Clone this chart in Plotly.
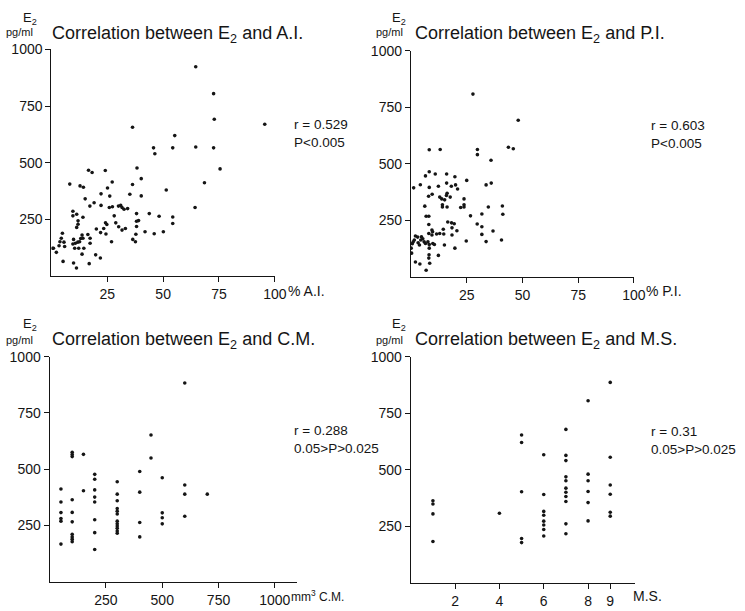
import plotly.graph_objects as go

# ---------------- data ----------------
ai_x = [64.6, 72.6, 72.9, 95.5, 36.3, 55.2, 45.7, 46.3, 54.3, 64.6, 72.6, 75.5, 68.5, 64.3, 54.3, 54.3,
        16.6, 18.2, 24.1, 38.3, 8.2, 12.8, 14.3, 27.2, 25.1, 40.2, 36.3, 15.1, 22.2, 26.1, 35.1, 40.2, 51.4,
        17.2, 19.1, 22.2, 25.9, 27.3, 30.0, 31.0, 31.6, 32.5, 34.1,
        9.6, 9.6, 11.3, 14.1, 28.1, 28.8, 30.1, 31.6, 33.1, 38.1, 38.1, 38.1, 39.0, 43.8, 48.2,
        50.1, 46.0, 41.9, 37.8, 36.4, 37.6, 24.8, 24.2, 23.4, 20.1, 22.0, 24.4, 26.9,
        11.9, 11.3, 11.9, 4.9, 4.4, 3.8, 5.6, 5.9, 3.4, 0.9, 2.2, 9.9, 9.6, 10.7, 11.8, 12.6, 13.1, 13.7,
        14.1, 16.3, 17.3, 17.3, 14.5, 12.2, 10.4, 13.7, 19.8, 21.9, 5.2, 9.9, 11.2, 16.9, 0.5]
ai_y = [924, 805, 692, 670, 657, 620, 566, 540, 566, 570, 566, 473, 412, 303, 261, 232,
        467, 457, 466, 477, 406, 398, 392, 415, 389, 430, 404, 341, 363, 353, 361, 354, 380,
        309, 324, 312, 303, 306, 309, 312, 303, 295, 298,
        286, 266, 273, 260, 266, 235, 218, 203, 210, 276, 242, 219, 245, 276, 264,
        196, 187, 196, 185, 162, 152, 228, 235, 210, 208, 192, 186, 152,
        244, 215, 229, 189, 167, 152, 150, 131, 134, 123, 105, 162, 142, 145, 150, 152, 166, 181,
        167, 184, 167, 145, 123, 123, 123, 97, 94, 80, 65, 58, 36, 55, 123]

pi_x = [27.8, 48.1, 8.2, 13.1, 29.8, 29.8, 35.9, 43.7, 45.9,
        1.2, 4.2, 6.5, 8.2, 10.9, 16.0, 19.7, 16.0, 20.0, 18.1, 20.9, 25.0, 33.7, 36.0, 8.2, 12.3,
        9.5, 7.9, 12.9, 13.8, 15.1, 15.9, 16.2, 17.6, 14.1, 14.1, 16.2, 23.8, 23.8, 23.8, 22.3, 6.2,
        6.8, 8.0, 26.7, 31.8, 34.7, 41.0, 41.2, 8.0, 16.5, 18.2, 19.4, 18.4, 18.4, 20.6, 14.5, 12.9,
        14.7, 9.4, 9.4, 9.7, 8.0, 11.5, 29.7, 31.8, 31.8, 36.8, 33.7, 40.6, 24.8,
        2.0, 3.0, 4.7, 5.3, 4.4, 1.5, 1.0, 0.6, 3.2, 3.8, 5.9, 6.5, 7.6, 8.2, 9.8, 10.5, 15.0, 8.2,
        0.1, 0.3, 2.0, 4.0, 8.0, 8.4, 6.8, 12.3, 19.7, 8.1]
pi_y = [808, 692, 562, 563, 563, 540, 515, 573, 566,
        393, 407, 446, 464, 454, 454, 442, 414, 406, 400, 388, 426, 406, 414, 395, 400,
        365, 356, 352, 344, 340, 359, 369, 352, 318, 308, 308, 344, 318, 308, 306, 312,
        267, 267, 269, 277, 308, 313, 276, 231, 242, 238, 234, 216, 184, 203, 210, 191,
        189, 206, 184, 199, 191, 189, 233, 221, 187, 202, 155, 162, 158,
        180, 175, 176, 168, 162, 162, 154, 146, 150, 140, 154, 147, 154, 142, 147, 142, 140, 126,
        126, 104, 65, 56, 82, 59, 28, 94, 126, 97]

cm_x = [50, 50, 50, 50, 50, 50,
        100, 100, 100, 100, 100, 100, 100, 100, 100, 100,
        150, 150,
        200, 200, 200, 200, 200, 200, 200, 200,
        300, 300, 300, 300, 300, 300, 300, 300, 300, 300, 300, 300,
        400, 400, 400, 400,
        450, 450,
        500, 500, 500, 500,
        600, 600, 600, 600,
        700]
cm_y = [412, 354, 307, 281, 269, 167,
        575, 565, 556, 364, 308, 266, 211, 199, 189, 178,
        566, 404,
        477, 455, 408, 376, 354, 275, 218, 143,
        444, 389, 360, 325, 313, 301, 269, 257, 247, 237, 225, 215,
        490, 398, 263, 199,
        652, 550,
        462, 306, 284, 257,
        883, 430, 389, 291,
        389]

ms_x = [1, 1, 1, 1,
        4,
        5, 5, 5, 5, 5,
        6, 6, 6, 6, 6, 6, 6, 6,
        7, 7, 7, 7, 7, 7, 7, 7, 7, 7, 7,
        8, 8, 8, 8, 8, 8,
        9, 9, 9, 9, 9, 9]
ms_y = [362, 348, 304, 182,
        307,
        653, 620, 402, 195, 177,
        566, 390, 315, 298, 272, 255, 235, 206,
        678, 563, 540, 468, 451, 418, 400, 381, 359, 260, 216,
        805, 480, 451, 403, 354, 273,
        886, 555, 432, 391, 311, 294]

y_ticks = [250, 500, 750, 1000]
ai_ticks = [25, 50, 75, 100]
pi_ticks = [25, 50, 75, 100]
cm_ticks = [250, 500, 750, 1000]
ms_ticks = [2, 4, 6, 8, 9]

# ---------------- figure ----------------
W, H = 745, 611
FONT = "Liberation Sans, Arial, sans-serif"
INK = "#151515"


def px_x(p):
    return p / W


def px_y(p):
    return 1 - p / H


fig = go.Figure()
panels = [
    (ai_x, ai_y, "x", "y"),
    (pi_x, pi_y, "x2", "y2"),
    (cm_x, cm_y, "x3", "y3"),
    (ms_x, ms_y, "x4", "y4"),
]
for xs, ys, xa, ya in panels:
    fig.add_trace(go.Scatter(x=xs, y=ys, mode="markers", xaxis=xa, yaxis=ya,
                             marker=dict(color=INK, size=3.6), showlegend=False,
                             hoverinfo="skip"))

axis_common = dict(showline=True, linecolor=INK, linewidth=1.3, showgrid=False,
                   zeroline=False, ticks="outside", ticklen=5, tickwidth=1.2,
                   tickcolor=INK, tickfont=dict(family=FONT, size=14, color=INK))

layout = dict(width=W, height=H, margin=dict(l=0, r=0, t=0, b=0),
              paper_bgcolor="white", plot_bgcolor="white", showlegend=False)

# panel geometry (pixel positions)
geo = {
    "1": dict(x0=52.3, x1=279.3, y0=271.7, y1=42.0, xr=[0, 100], ticks=ai_ticks),
    "2": dict(x0=417.7, x1=644.3, y0=272.2, y1=43.3, xr=[0, 100], ticks=pi_ticks),
    "3": dict(x0=50.5, x1=302.2, y0=581.3, y1=353.3, xr=[0, 1100], ticks=cm_ticks),
    "4": dict(x0=417.5, x1=645.0, y0=582.2, y1=353.3, xr=[0, 10.1], ticks=ms_ticks),
}
for k, g in geo.items():
    xn = "xaxis" if k == "1" else f"xaxis{k}"
    yn = "yaxis" if k == "1" else f"yaxis{k}"
    ya = "y" if k == "1" else f"y{k}"
    xa = "x" if k == "1" else f"x{k}"
    layout[xn] = dict(axis_common, domain=[px_x(g["x0"]), px_x(g["x1"])], range=g["xr"],
                      anchor=ya, tickvals=g["ticks"], ticktext=[str(t) for t in g["ticks"]])
    layout[yn] = dict(axis_common, domain=[px_y(g["y0"]), px_y(g["y1"])], range=[0, 1000],
                      anchor=xa, tickvals=y_ticks, ticktext=[str(t) for t in y_ticks])

fig.update_layout(**layout)


def note(x, y, text, size=15, xanchor="left"):
    fig.add_annotation(x=px_x(x), y=px_y(y), xref="paper", yref="paper", text=text,
                       showarrow=False, xanchor=xanchor, yanchor="middle",
                       font=dict(family=FONT, size=size, color=INK))


titles = [
    (21, 11, 4, 24, 51, 27, "Correlation between E<sub>2</sub> and A.I."),
    (396, 11, 380, 24, 420, 27, "Correlation between E<sub>2</sub> and P.I."),
    (21, 321, 4, 336, 51, 337, "Correlation between E<sub>2</sub> and C.M."),
    (396, 321, 380, 336, 420, 337, "Correlation between E<sub>2</sub> and M.S."),
]
for ex, ey, px_, py_, tx, ty, txt in titles:
    note(ex, ey, "E<sub>2</sub>", size=13)
    note(px_, py_, "pg/ml", size=11)
    note(tx, ty, txt, size=18)

stats = [
    (297, 118, 136, "r = 0.529", "P&lt;0.005"),
    (660, 119, 137, "r = 0.603", "P&lt;0.005"),
    (297, 428, 446, "r = 0.288", "0.05&gt;P&gt;0.025"),
    (660, 429, 447, "r = 0.31", "0.05&gt;P&gt;0.025"),
]
for x, y1, y2, t1, t2 in stats:
    note(x, y1, t1, size=13.5)
    note(x, y2, t2, size=13.5)

note(291, 287, "% A.I.", size=14)
note(655, 287, "% P.I.", size=14)
note(294, 596, "mm<sup>3</sup> C.M.", size=12)
note(641, 596, "M.S.", size=14)

fig.write_html("out.html", config={"displayModeBar": False},
               post_script="document.body.style.margin='0';document.body.style.padding='0';")
